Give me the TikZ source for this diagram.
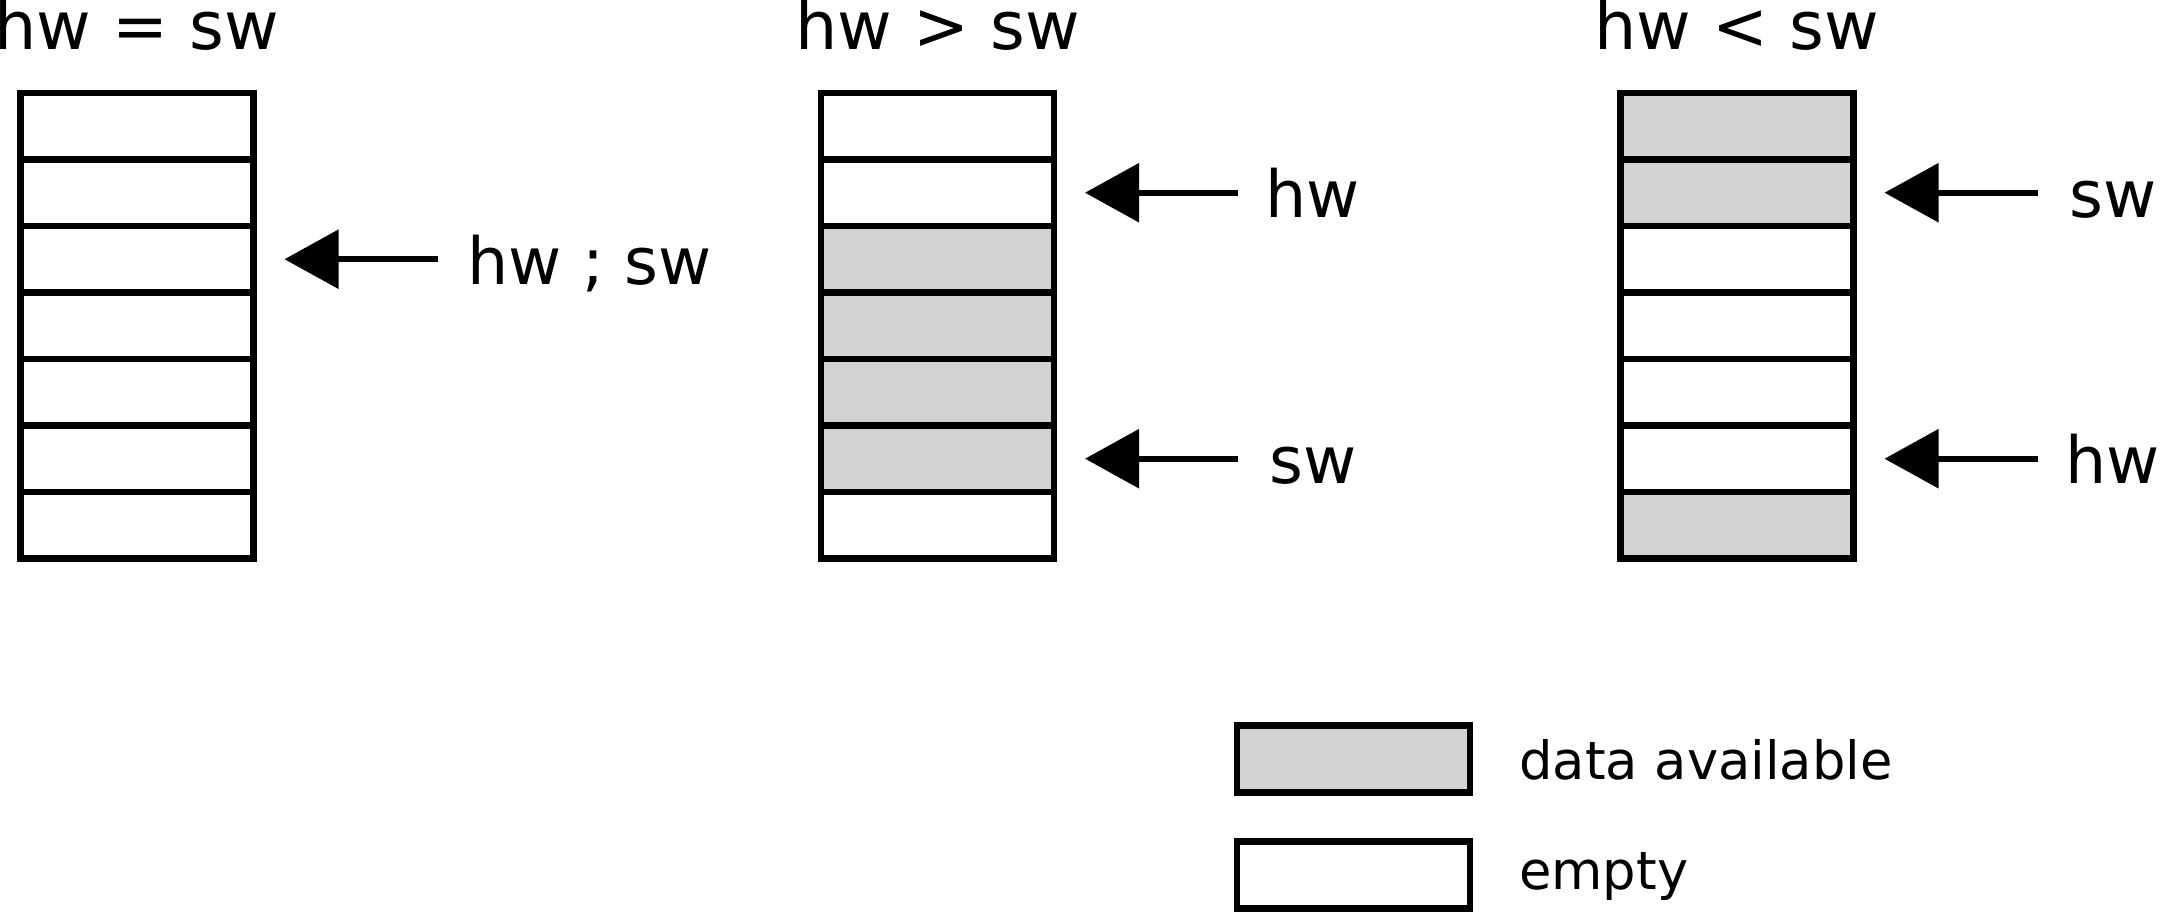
\documentclass[tikz,border=0pt]{standalone}
\usepackage{fontspec}
\setmainfont{DejaVu Sans}
\usetikzlibrary{arrows.meta}
\definecolor{datagray}{HTML}{D3D3D3}
\tikzset{
  cell/.style={draw=black, line width=0.068cm, minimum width=2.33cm, minimum height=0.665cm, inner sep=0pt, outer sep=0pt},
  full/.style={cell, fill=datagray},
  emptycell/.style={cell, fill=white},
  ptr/.style={line width=0.06cm, -{Triangle[length=0.54cm, width=0.58cm]}},
  title/.style={font=\fontsize{19}{22}\selectfont, anchor=base, inner sep=0pt},
  lbl/.style={font=\fontsize{18.5}{22}\selectfont, anchor=base west, inner sep=0pt},
  leg/.style={font=\fontsize{15}{18}\selectfont, anchor=base west, inner sep=0pt}
}
\begin{document}
\begin{tikzpicture}
\useasboundingbox (0,0) rectangle (21.61,9.13);
% stack 1 : hw = sw
\foreach \i in {1,...,7} {
  \node[emptycell] (a\i) at (1.37, {9.13-0.93-(\i-0.5)*0.665}) {};
}
% stack 2 : hw > sw
\foreach \i/\s in {1/emptycell,2/emptycell,3/full,4/full,5/full,6/full,7/emptycell} {
  \node[\s] (b\i) at (9.375, {9.13-0.93-(\i-0.5)*0.665}) {};
}
% stack 3 : hw < sw
\foreach \i/\s in {1/full,2/full,3/emptycell,4/emptycell,5/emptycell,6/emptycell,7/full} {
  \node[\s] (c\i) at (17.37, {9.13-0.93-(\i-0.5)*0.665}) {};
}
% titles
\node[title] (ta) at (1.37, 8.635) {hw = sw};
\node[title] (tb) at (9.375, 8.635) {hw > sw};
\node[title] (tc) at (17.37, 8.635) {hw < sw};
% pointers
\coordinate (pa) at ([xshift=1.84cm]a3.east);
\coordinate (pb1) at ([xshift=1.84cm]b2.east);
\coordinate (pb2) at ([xshift=1.84cm]b6.east);
\coordinate (pc1) at ([xshift=1.84cm]c2.east);
\coordinate (pc2) at ([xshift=1.84cm]c6.east);
\draw[ptr] (pa) -- ([xshift=0.31cm]a3.east);
\draw[ptr] (pb1) -- ([xshift=0.31cm]b2.east);
\draw[ptr] (pb2) -- ([xshift=0.31cm]b6.east);
\draw[ptr] (pc1) -- ([xshift=0.31cm]c2.east);
\draw[ptr] (pc2) -- ([xshift=0.31cm]c6.east);
\node[lbl] (la) at ([xshift=0.29cm, yshift=-0.25cm]pa) {hw ; sw};
\node[lbl] (lb1) at ([xshift=0.27cm, yshift=-0.25cm]pb1) {hw};
\node[lbl] (lb2) at ([xshift=0.31cm, yshift=-0.25cm]pb2) {sw};
\node[lbl] (lc1) at ([xshift=0.31cm, yshift=-0.25cm]pc1) {sw};
\node[lbl] (lc2) at ([xshift=0.27cm, yshift=-0.25cm]pc2) {hw};
% legend
\node[full] (kd) at (13.535, 1.54) {};
\node[emptycell] (ke) at (13.535, 0.38) {};
\node[leg] (kdt) at (15.185, 1.33) {data available};
\node[leg] (ket) at (15.185, 0.23) {empty};
\end{tikzpicture}
\end{document}
